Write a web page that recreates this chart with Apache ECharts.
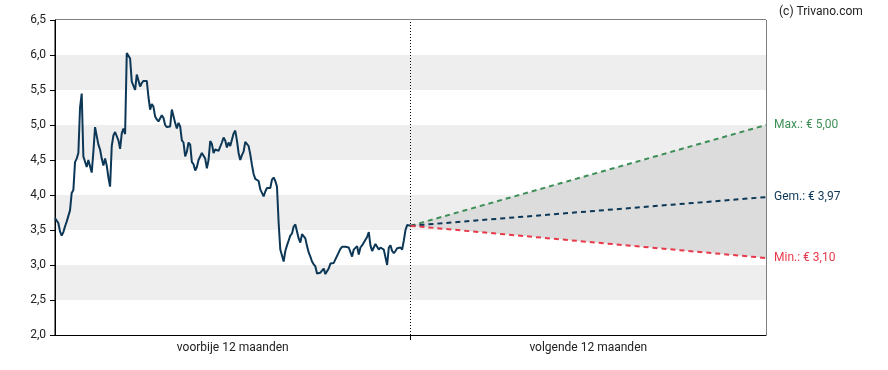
<!DOCTYPE html>
<html>
<head>
<meta charset="utf-8">
<script src="https://cdn.jsdelivr.net/npm/echarts@6/dist/echarts.min.js"></script>
<style>
html,body{margin:0;padding:0;background:#fff;}
#chart{width:888px;height:370px;}
</style>
</head>
<body>
<div id="chart"></div>
<script>
// ---- data ----
var periodLabels = ['voorbije 12 maanden', 'volgende 12 maanden'];
var yTicks = [2.0, 2.5, 3.0, 3.5, 4.0, 4.5, 5.0, 5.5, 6.0, 6.5];
// past 12 months share price, evenly spaced from -12 to 0 months
var pastPrices = [
  3.67,3.68,3.60,3.48,3.42,3.47,3.55,3.62,3.60,3.78,4.03,4.07,4.47,4.52,4.60,5.25,5.45,4.55,4.55,4.40,
  4.50,4.48,4.32,4.62,4.97,4.95,4.72,4.65,4.52,4.42,4.52,4.42,4.25,4.12,4.70,4.85,4.90,4.88,4.78,4.66,
  4.88,4.95,4.87,6.03,6.03,5.95,5.62,5.62,5.50,5.72,5.70,5.55,5.60,5.63,5.65,5.63,5.40,5.22,5.30,5.26,
  5.12,5.08,5.05,5.05,5.14,5.10,5.00,4.97,4.97,4.98,5.22,5.22,5.03,4.95,5.03,4.98,4.78,4.75,4.55,4.62,
  4.75,4.72,4.47,4.44,4.35,4.40,4.50,4.55,4.60,4.58,4.52,4.38,4.50,4.77,4.73,4.60,4.65,4.64,4.63,4.62,
  4.75,4.82,4.78,4.68,4.75,4.70,4.68,4.88,4.92,4.78,4.60,4.50,4.57,4.62,4.76,4.77,4.70,4.58,4.43,4.30,
  4.23,4.23,4.20,4.08,4.08,3.98,4.05,4.10,4.12,4.10,4.22,4.25,4.20,4.12,3.60,3.22,3.20,3.05,3.20,3.28,
  3.35,3.42,3.45,3.55,3.58,3.60,3.38,3.32,
  3.44,3.44,3.38,3.27,3.18,3.12,3.05,3.01,2.98,2.88,2.90,2.89,2.90,2.95,2.87,2.88,2.95,3.02,3.02,3.03,
  3.08,3.13,3.18,3.23,3.26,3.27,3.26,3.25,3.25,3.23,3.12,3.22,3.20,3.27,3.15,3.25,3.28,3.30,3.36,3.40,
  3.47,3.28,3.20,3.22,3.30,3.30,3.22,3.25,3.23,3.22,3.22,3.00,3.25,3.28,3.20,3.17,3.20,3.24,3.25,3.25,
  3.22,3.35,3.50,3.57,3.57,3.56
];
var forecastPoints = ['nu', '+12 maanden'];
var forecastMax = [3.56, 5.00];
var forecastAvg = [3.56, 3.97];
var forecastMin = [3.56, 3.10];

// ---- build ----
function fmt(v){ return v.toFixed(2).replace('.', ','); }
var n = pastPrices.length;
var pastData = pastPrices.map(function(v, i){ return [-12 + 12 * i / (n - 1), v]; });
var bandData = forecastMax.map(function(v, i){ return +(v - forecastMin[i]).toFixed(4); });

var font = 'Roboto, "DejaVu Sans", sans-serif';
var yMin = yTicks[0], yMax = yTicks[yTicks.length - 1];
var chart = echarts.init(document.getElementById('chart'), null, {renderer: 'canvas'});
chart.setOption({
  animation: false,
  backgroundColor: '#fff',
  title: {
    text: '(c) Trivano.com', left: 774, top: 1,
    textStyle: {fontSize: 12, fontWeight: 'normal', color: '#222', fontFamily: font}
  },
  grid: [
    {left: 55, right: 122, top: 20, bottom: 35, show: true, borderColor: '#000', borderWidth: 1, backgroundColor: 'transparent'},
    {left: 410.5, right: 122, top: 20, bottom: 35, show: false}
  ],
  xAxis: [{
    type: 'value', min: -12, max: 12, gridIndex: 0,
    axisLine: {show: true, onZero: false, lineStyle: {color: '#000', width: 1}},
    axisTick: {show: true, customValues: [0], length: 5, lineStyle: {color: '#000'}},
    axisLabel: {
      customValues: [-6, 6], margin: 7, color: '#222', fontSize: 12, fontFamily: font,
      formatter: function(v){ return v < 0 ? periodLabels[0] : periodLabels[1]; }
    },
    splitLine: {show: false}
  }, {
    type: 'category', gridIndex: 1, data: forecastPoints, boundaryGap: false, show: false
  }],
  yAxis: [{
    type: 'value', min: yMin, max: yMax, interval: 0.5, gridIndex: 0,
    axisLine: {show: true, onZero: false, lineStyle: {color: '#000', width: 1}},
    axisTick: {show: true, length: 5, lineStyle: {color: '#000'}},
    axisLabel: {margin: 9, color: '#222', fontSize: 12, fontFamily: font,
      formatter: function(v){ return v.toFixed(1).replace('.', ','); }},
    splitLine: {show: false},
    splitArea: {show: true, areaStyle: {color: ['#ffffff', '#eeeeee']}}
  }, {
    type: 'value', min: yMin, max: yMax, gridIndex: 1, show: false, splitLine: {show: false}
  }],
  series: [
    {
      type: 'line', name: 'base', data: forecastMin, stack: 'band', symbol: 'none',
      xAxisIndex: 1, yAxisIndex: 1,
      lineStyle: {opacity: 0}, silent: true, z: 1
    },
    {
      type: 'line', name: 'band', data: bandData, stack: 'band', symbol: 'none',
      xAxisIndex: 1, yAxisIndex: 1,
      lineStyle: {opacity: 0}, areaStyle: {color: '#dcdcdc', opacity: 1}, silent: true, z: 1
    },
    {
      type: 'line', name: 'divider', data: [[0, yMin], [0, yMax]], symbol: 'none', silent: true,
      lineStyle: {color: '#000', width: 1, type: [1, 2]}, z: 2
    },
    {
      type: 'line', name: 'past', data: pastData, symbol: 'none',
      lineStyle: {color: '#0c3756', width: 2}, z: 3
    },
    {
      type: 'line', name: 'max', data: forecastMax, symbol: 'none',
      xAxisIndex: 1, yAxisIndex: 1,
      lineStyle: {color: '#3d8f57', width: 2, type: [5, 4]}, z: 4,
      endLabel: {show: true, distance: 8, color: '#3d8f57', fontSize: 12, fontFamily: font,
        formatter: function(){ return 'Max.: € ' + fmt(forecastMax[1]); }}
    },
    {
      type: 'line', name: 'avg', data: forecastAvg, symbol: 'none',
      xAxisIndex: 1, yAxisIndex: 1,
      lineStyle: {color: '#0c3756', width: 2, type: [5, 4]}, z: 4,
      endLabel: {show: true, distance: 8, color: '#0c3756', fontSize: 12, fontFamily: font,
        formatter: function(){ return 'Gem.: € ' + fmt(forecastAvg[1]); }}
    },
    {
      type: 'line', name: 'min', data: forecastMin, symbol: 'none',
      xAxisIndex: 1, yAxisIndex: 1,
      lineStyle: {color: '#e8394a', width: 2, type: [5, 4]}, z: 4,
      endLabel: {show: true, distance: 8, color: '#e8394a', fontSize: 12, fontFamily: font,
        formatter: function(){ return 'Min.: € ' + fmt(forecastMin[1]); }}
    }
  ]
});
</script>
</body>
</html>
